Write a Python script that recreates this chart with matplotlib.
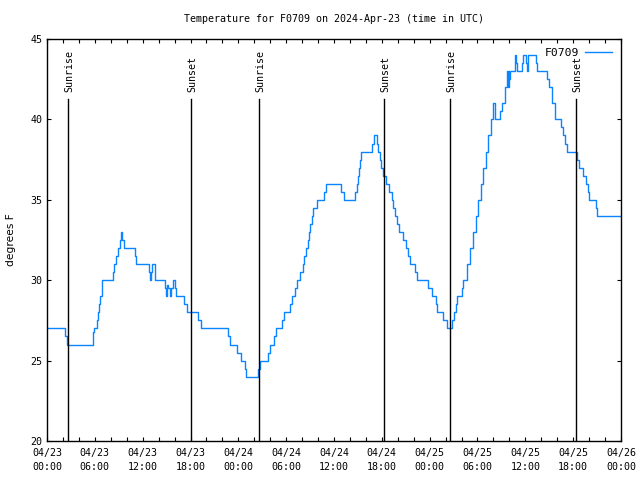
import matplotlib
matplotlib.use("Agg")
import matplotlib.pyplot as plt

# hours since 2024-04-23 00:00 UTC, temperature in F
hours = [0, 2.2, 2.45, 5.75, 5.94, 6.23, 6.4, 6.55, 6.7, 6.85, 6.95,
         8.24, 8.4, 8.65, 8.85, 9.16, 9.3, 9.45, 9.6, 11.04, 11.2,
         12.79, 12.95, 13.05, 13.2, 13.5, 13.6,
         14.8, 14.9, 15.0, 15.2, 15.4, 15.5, 15.75, 16.05, 16.18,
         17.22, 17.52, 18.98, 19.28, 22.74, 22.95,
         23.8, 24.3, 24.8, 24.95, 26.47, 26.7, 27.76, 27.97,
         28.51, 28.73, 29.52, 29.77, 30.48, 30.73, 31.1, 31.35,
         31.74, 32.05, 32.24, 32.5, 32.7, 32.83, 33.0, 33.2, 33.4, 33.83,
         34.78, 35.0, 36.88, 37.22,
         38.63, 38.85, 39.0, 39.1, 39.25, 39.39, 40.73, 40.98,
         41.36, 41.55, 41.75, 41.95, 42.15, 42.52, 42.94, 43.24,
         43.36, 43.66, 43.9, 44.19, 44.69, 45.03, 45.33, 45.53,
         46.16, 46.45, 47.75, 48.25, 48.75, 48.96, 49.71, 50.21,
         50.76, 51.05, 51.3, 51.47,
         52.02, 52.22, 52.65, 53.06, 53.47, 53.78, 54.1, 54.44,
         54.73, 55.07, 55.36, 55.7, 55.91, 56.2, 56.82, 57.04, 57.45,
         57.66, 57.8, 57.9, 58.0, 58.08, 58.7, 58.85, 59.0, 59.54,
         59.75, 60.04, 60.17, 60.3, 61.34, 61.5,
         62.76, 63.0, 63.31, 63.72, 64.48, 64.77, 65.0, 65.19,
         66.44, 66.73, 67.27, 67.61, 67.8, 67.99, 68.82, 69.03, 71.87]
temps_f = [27, 26.5, 26, 26.8, 27, 27.5, 28, 28.5, 29, 29.5, 30,
           30.5, 31, 31.5, 32, 32.5, 33, 32.5, 32, 31.5, 31,
           30.5, 30, 30.5, 31, 30.5, 30,
           29.5, 29, 29.7, 29.5, 29, 29.5, 30, 29.5, 29,
           28.5, 28, 27.5, 27, 26.5, 26,
           25.5, 25, 24.5, 24, 24.5, 25, 25.5, 26,
           26.5, 27, 27.5, 28, 28.5, 29, 29.5, 30,
           30.5, 31, 31.5, 32, 32.5, 33, 33.5, 34, 34.5, 35,
           35.5, 36, 35.5, 35,
           35.5, 36, 36.5, 37, 37.5, 38, 38.5, 39,
           38.5, 38, 37.5, 37, 36.5, 36, 35.5, 35,
           34.5, 34, 33.5, 33, 32.5, 32, 31.5, 31,
           30.5, 30, 29.5, 29, 28.5, 28, 27.5, 27,
           27.5, 28, 28.5, 29,
           29.5, 30, 31, 32, 33, 34, 35, 36,
           37, 38, 39, 40, 41, 40, 40.5, 41, 42,
           43, 42, 43, 42.5, 43, 44, 43.5, 43, 43.5,
           44, 43.5, 43, 44, 43.5, 43,
           42.5, 42, 41, 40, 39.5, 39, 38.5, 38,
           37.5, 37, 36.5, 36, 35.5, 35, 34.5, 34, 34]

sunrise = [2.63, 26.6, 50.55]
sunset = [18.06, 42.27, 66.36]

tick_hours = list(range(0, 73, 6))
tick_labels = ["04/23\n00:00", "04/23\n06:00", "04/23\n12:00", "04/23\n18:00",
               "04/24\n00:00", "04/24\n06:00", "04/24\n12:00", "04/24\n18:00",
               "04/25\n00:00", "04/25\n06:00", "04/25\n12:00", "04/25\n18:00",
               "04/26\n00:00"]

mono = "DejaVu Sans Mono"
fs = 7.2

fig = plt.figure(figsize=(6.4, 4.8), dpi=100)
ax = fig.add_axes([47 / 640, 39 / 480, 574 / 640, 402 / 480])

ax.plot(hours, temps_f, drawstyle="steps-post", color="#0a84ff", lw=1.0,
        label="F0709")

for h in sunrise:
    ax.plot([h, h], [20, 41.27], color="black", lw=1.0)
    ax.text(h + 0.2, 41.7, "Sunrise", rotation=90, ha="center", va="bottom",
            family=mono, fontsize=fs)
for h in sunset:
    ax.plot([h, h], [20, 41.27], color="black", lw=1.0)
    ax.text(h + 0.2, 41.7, "Sunset", rotation=90, ha="center", va="bottom",
            family=mono, fontsize=fs)

ax.set_xlim(0, 72)
ax.set_ylim(20, 45)
ax.set_xticks(tick_hours)
ax.set_xticklabels(tick_labels, family=mono, fontsize=fs, linespacing=1.5)
ax.set_xticks(range(0, 73, 2), minor=True)
ax.set_yticks(range(20, 46, 5))
ax.tick_params(axis="y", labelsize=fs)
ax.tick_params(which="both", direction="in", top=True, right=True,
               length=3, width=0.8)
ax.tick_params(axis="x", pad=5)
for lab in ax.get_yticklabels():
    lab.set_family(mono)
for s in ax.spines.values():
    s.set_linewidth(1.0)

ax.set_ylabel("degrees F", fontsize=fs + 0.5, labelpad=10)
ax.set_title("Temperature for F0709 on 2024-Apr-23 (time in UTC)",
             family=mono, fontsize=fs, pad=12)

leg = ax.legend(loc="upper right", frameon=False, markerfirst=False,
                prop={"family": mono, "size": fs + 1}, handlelength=2.4,
                borderaxespad=0.4, handletextpad=0.5)

fig.savefig("out.png", dpi=100)
